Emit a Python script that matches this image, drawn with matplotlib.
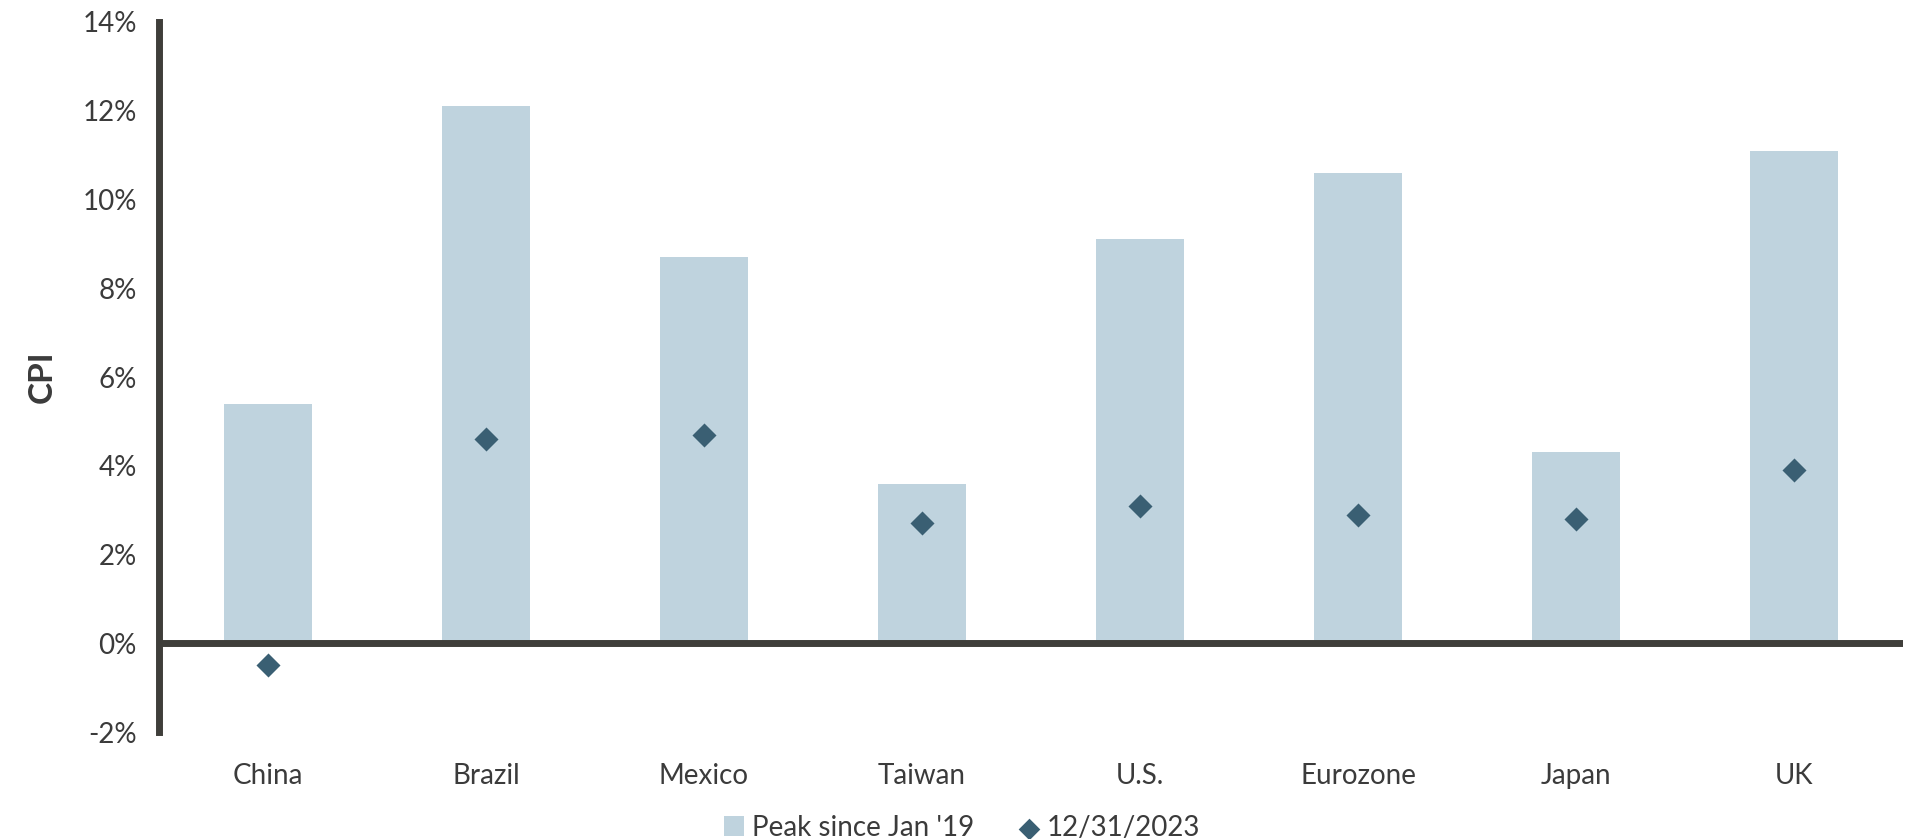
import matplotlib
matplotlib.use("Agg")
import matplotlib.pyplot as plt
from matplotlib.ticker import FuncFormatter, MultipleLocator

countries = ["China", "Brazil", "Mexico", "Taiwan", "U.S.", "Eurozone", "Japan", "UK"]
peak_since_2019 = [5.4, 12.1, 8.7, 3.6, 9.1, 10.6, 4.3, 11.1]
cpi_dec_2023 = [-0.5, 4.6, 4.7, 2.7, 3.1, 2.9, 2.8, 3.9]

bar_color = "#bfd3de"
diamond_color = "#3a5f73"
axis_color = "#3f3e3a"
text_color = "#3b3b3b"

plt.rcParams["font.family"] = ["Lato", "DejaVu Sans"]

fig = plt.figure(figsize=(19.13, 8.39), dpi=100)
ax = fig.add_axes([0.0831, 0.1275, 0.9117, 0.8463])

x = range(len(countries))
bars = ax.bar(x, peak_since_2019, width=0.4, color=bar_color, label="Peak since Jan '19", zorder=2)
dots = ax.scatter(x, cpi_dec_2023, marker="D", s=150, color=diamond_color, label="12/31/2023",
                  zorder=4, linewidths=0)

ax.axhline(0, color=axis_color, linewidth=5, zorder=3)

ax.set_xlim(-0.5, 7.5)
ax.set_ylim(-2, 14)
ax.yaxis.set_major_locator(MultipleLocator(2))
ax.yaxis.set_major_formatter(FuncFormatter(lambda v, _: f"{v:.0f}%"))
ax.set_xticks(list(x))
ax.set_xticklabels(countries)

for side in ("top", "right", "bottom"):
    ax.spines[side].set_visible(False)
ax.spines["left"].set_color(axis_color)
ax.spines["left"].set_linewidth(5)

ax.tick_params(axis="y", length=0, pad=16, labelsize=20, labelcolor=text_color)
ax.tick_params(axis="x", length=0, pad=22, labelsize=20, labelcolor=text_color)

ax.set_ylabel("CPI", fontsize=24, fontweight="bold", color=text_color, labelpad=18)

fig.legend(handles=[bars, dots], labels=["Peak since Jan '19", "12/31/2023"],
           loc="lower center", bbox_to_anchor=(0.503, -0.032), ncol=2, frameon=False,
           fontsize=20, handlelength=0.7, handletextpad=0.3, columnspacing=1.6,
           labelcolor=text_color, markerscale=0.9)

fig.savefig("out.png", dpi=100, facecolor="white")
